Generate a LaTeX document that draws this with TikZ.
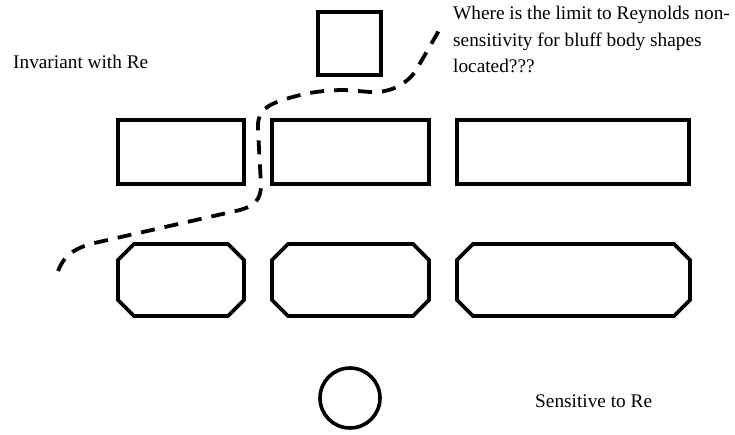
\documentclass[tikz,border=0pt]{standalone}
\usepackage{fontspec}
\setmainfont{Liberation Serif}
\begin{document}
\begin{tikzpicture}[x=1pt,y=-1pt,
  shapeline/.style={line width=3.6pt, line join=miter},
  lbl/.style={inner sep=0pt, anchor=base west, font=\fontsize{19.3}{26.5}\selectfont},
  limitline/.style={line width=3.8pt, dash pattern=on 14pt off 10pt}]
\useasboundingbox (0,0) rectangle (735,434);
% top square
\draw[shapeline] (318,12) rectangle (381,75);
% sharp rectangles
\draw[shapeline] (118,120) rectangle (244,184);
\draw[shapeline] (272,120) rectangle (429,184);
\draw[shapeline] (457,120) rectangle (689,184);
% chamfered rectangles
\foreach \a/\b in {118/244, 272/429, 457/690}{
  \draw[shapeline] (\a+16,244) -- (\b-16,244) -- (\b,260) -- (\b,300) -- (\b-16,316)
     -- (\a+16,316) -- (\a,300) -- (\a,260) -- cycle;
}
% circle
\draw[shapeline] (350,398) circle (30);
% labels
\node[lbl] (inv) at (13,68) {Invariant with Re};
\node[lbl] (sens) at (535,407) {Sensitive to Re};
\node[lbl] (q1) at (453,19) {Where is the limit to Reynolds non-};
\node[lbl] (q2) at (453,46) {sensitivity for bluff body shapes};
\node[lbl] (q3) at (453,72) {located???};
% dashed limit curve
\draw[limitline] (58,271) .. controls (64,256) and (72,250) .. (90,244) -- (240,210)
  .. controls (254,206) and (261,200) .. (261,185) -- (258,130)
  .. controls (257,115) and (262,107) .. (280,101)
  .. controls (300,94) and (320,90) .. (345,90) -- (370,92)
  .. controls (390,93) and (405,85) .. (415,72) -- (441,27);
\end{tikzpicture}
\end{document}
